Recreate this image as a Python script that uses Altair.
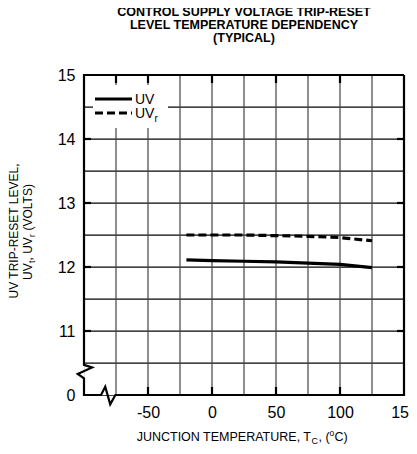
import altair as alt
import pandas as pd

# ---- data ----
temp = [-20, 0, 25, 50, 75, 100, 125]
uv = [12.11, 12.10, 12.09, 12.08, 12.06, 12.04, 11.99]
uv_r = [12.50, 12.50, 12.50, 12.49, 12.48, 12.46, 12.41]

x_grid = [-75, -50, -25, 0, 25, 50, 75, 100, 125]
x_labels = [-50, 0, 50, 100, 150]
y_grid = [10.5, 11, 11.5, 12, 12.5, 13, 13.5, 14, 14.5]
y_ticks = [10, 11, 12, 13, 14, 15]
y_tick_text = ["0", "11", "12", "13", "14", "15"]   # bottom of the broken axis reads 0

top_ticks = [-75, -50, 0, 50, 100]
bottom_ticks = [-50, 0, 50, 100]
side_ticks = [11, 12, 13, 14]

# frame outline with the axis-break zigzags
frame_x = [150, -100, -100, -93.75, -104.9, -100, -100, -86.7, -83.4, -79.5, -75.5, 150, 150]
frame_y = [15, 15, 10.47, 10.43, 10.33, 10.26, 10, 10, 10.13, 9.855, 10, 10, 15]

title_lines = ["CONTROL SUPPLY VOLTAGE TRIP-RESET", "LEVEL TEMPERATURE DEPENDENCY", "(TYPICAL)"]

FONT = "Liberation Sans"
X_MIN, X_MAX, Y_MIN, Y_MAX = -100, 150, 10, 15
W, H = 320, 320

# ---- scales/axes ----
xscale = alt.Scale(domain=[X_MIN, X_MAX], nice=False, zero=False)
yscale = alt.Scale(domain=[Y_MIN, Y_MAX], nice=False, zero=False)


def label_expr(values, texts):
    expr = "''"
    for v, t in zip(values, texts):
        expr = f"(datum.value == {v} ? '{t}' : {expr})"
    return expr


xaxis = alt.Axis(values=x_labels, labelExpr=label_expr(x_labels, [str(v) for v in x_labels]),
                 grid=False, ticks=False, domain=False,
                 labelFontSize=16, labelFont=FONT, labelColor="black", labelPadding=9,
                 title=None, labelFlush=False, labelOverlap=False)
yaxis = alt.Axis(values=y_grid + [10, 15], labelExpr=label_expr(y_ticks, y_tick_text),
                 grid=True, gridColor="#444444", gridWidth=1.2, gridOpacity=1,
                 ticks=False, domain=False,
                 labelFontSize=16, labelFont=FONT, labelColor="black", labelPadding=9,
                 title=None, labelFlush=False, labelOverlap=False)


def X(field):
    return alt.X(f"{field}:Q", scale=xscale, axis=xaxis)


def Y(field):
    return alt.Y(f"{field}:Q", scale=yscale, axis=yaxis)


one = pd.DataFrame({"a": [0]})

# vertical grid lines
vgrid = alt.Chart(pd.DataFrame({"g": x_grid})).mark_rule(color="#444444", strokeWidth=1.2).encode(
    x=X("g"))
# horizontal grid lines
hgrid = alt.Chart(pd.DataFrame({"h": y_grid})).mark_rule(color="#444444", strokeWidth=1.2).encode(
    y=Y("h"), x=alt.value(0), x2=alt.value(W))
hgrid2 = alt.Chart(pd.DataFrame({"h": y_grid})).mark_tick(
    color="#444444", thickness=1.2, size=W, orient="horizontal").encode(
    y=Y("h"), x=alt.value(W / 2))

curve_df = pd.DataFrame({"t": temp, "uv": uv, "uvr": uv_r})
solid = alt.Chart(curve_df).mark_line(color="black", strokeWidth=3.2).encode(x=X("t"), y=Y("uv"))
dashed = alt.Chart(curve_df).mark_line(color="black", strokeWidth=3.2, strokeDash=[8, 4]).encode(
    x=X("t"), y=Y("uvr"))

# legend
leg_box = alt.Chart(one).mark_rect(fill="white").encode(
    x=alt.value(9), x2=alt.value(84), y=alt.value(10), y2=alt.value(53))
leg_solid = alt.Chart(one).mark_rule(color="black", strokeWidth=3.2).encode(
    x=alt.value(11), x2=alt.value(48), y=alt.value(24))
leg_dash = alt.Chart(one).mark_rule(color="black", strokeWidth=3.2, strokeDash=[8, 4]).encode(
    x=alt.value(11), x2=alt.value(48), y=alt.value(38))


def txt(s, x, y, size=12, align="left", angle=0, weight="normal"):
    return alt.Chart(one).mark_text(font=FONT, fontSize=size, align=align, baseline="alphabetic",
                                    angle=angle, fontWeight=weight).encode(
        x=alt.value(x), y=alt.value(y), text=alt.value(s))


legend_txt = [
    txt("UV", 51, 29, 14),
    txt("UV", 51, 43, 14),
    txt("r", 70.5, 47, 10),
]

# inward ticks
tick_top = alt.Chart(pd.DataFrame({"v": top_ticks})).mark_rule(color="black", strokeWidth=2.2).encode(
    x=X("v"), y=alt.value(0), y2=alt.value(8))
tick_bot = alt.Chart(pd.DataFrame({"v": bottom_ticks})).mark_rule(color="black", strokeWidth=2.2).encode(
    x=X("v"), y=alt.value(H - 8), y2=alt.value(H))
tick_left = alt.Chart(pd.DataFrame({"v": side_ticks})).mark_rule(color="black", strokeWidth=2.2).encode(
    y=Y("v"), x=alt.value(0), x2=alt.value(7))
tick_right = alt.Chart(pd.DataFrame({"v": side_ticks})).mark_rule(color="black", strokeWidth=2.2).encode(
    y=Y("v"), x=alt.value(W - 7), x2=alt.value(W))

frame_df = pd.DataFrame({"fx": frame_x, "fy": frame_y, "i": list(range(len(frame_x)))})
frame = alt.Chart(frame_df).mark_line(color="black", strokeWidth=2.2, strokeJoin="miter").encode(
    x=X("fx"), y=Y("fy"), order="i:Q")

# title
title = [txt(s, 160, yy, 12.5, "center", 0, "bold") for s, yy in zip(title_lines, [-59, -46, -33])]

# x axis title (with sub/superscripts)
X0 = 227
xt = [
    txt("JUNCTION TEMPERATURE, T", X0, 366, 12.5, "right"),
    txt("C", X0 + 0.5, 369, 9),
    txt(", (", X0 + 7.5, 366, 12.5),
    txt("o", X0 + 18.5, 361, 8.5),
    txt("C)", X0 + 23.5, 366, 12.5),
]

# y axis title (rotated, with subscripts)
yt = [
    txt("UV TRIP-RESET LEVEL,", -66, 156, 12, "center", 270),
    txt("UV", -52, 205, 12, "left", 270),
    txt("t", -49, 188, 8.5, "left", 270),
    txt(", UV", -52, 185.5, 12, "left", 270),
    txt("r", -49, 162, 8.5, "left", 270),
    txt("(VOLTS)", -52, 155.5, 12, "left", 270),
]

chart = alt.layer(vgrid, hgrid, hgrid2, solid, dashed, leg_box, leg_solid, leg_dash, *legend_txt,
                  tick_top, tick_bot, tick_left, tick_right, frame, *title, *xt, *yt).properties(
    width=W, height=H, autosize="none",
    padding={"left": 76, "top": 67, "right": 5, "bottom": 59},
).configure_view(stroke=None).configure(background="white")

chart.save("out.html", embed_options={"renderer": "svg", "actions": False})
